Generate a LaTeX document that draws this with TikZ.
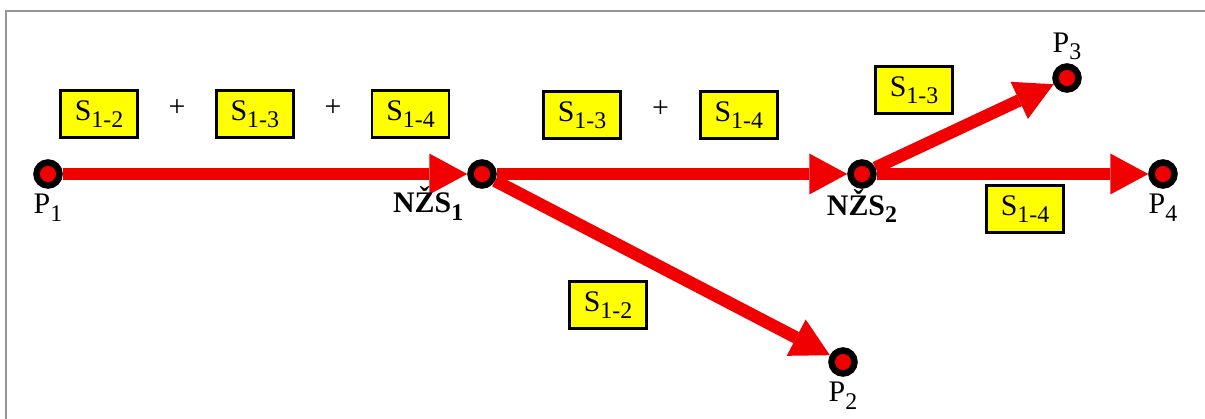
\documentclass[tikz,border=0pt]{standalone}
\usepackage{fontspec}
\setmainfont{Liberation Serif}
\usetikzlibrary{positioning,arrows.meta}
\definecolor{flowred}{RGB}{240,0,0}
\definecolor{boxyellow}{RGB}{255,255,0}
\definecolor{framegray}{RGB}{150,150,150}
\newcommand{\idx}[1]{\raisebox{-0.25em}{\scalebox{0.8}{#1}}}

\begin{document}
\begin{tikzpicture}[x=0.02cm,y=-0.02cm,
  dot/.style={circle,draw=black,fill=flowred,line width=0.13cm,minimum size=0.46cm,inner sep=0pt},
  box/.style={draw,line width=1.6pt,fill=boxyellow,minimum width=1.54cm,minimum height=0.94cm,inner sep=0pt,font=\fontsize{17}{20}\selectfont},
  plus/.style={inner sep=0pt,font=\fontsize{17}{20}\selectfont},
  flow/.style={-{Triangle[length=0.76cm,width=0.82cm,line width=0pt]},line width=0.25cm,flowred},
  plabel/.style={inner sep=0pt,font=\fontsize{17}{20}\selectfont},
  zlabel/.style={inner sep=0pt,font=\fontsize{17}{20}\selectfont\bfseries}
]
  \useasboundingbox (0,0) rectangle (1205,419);
  \draw[framegray,line width=1pt] (6,419) -- (6,11) -- (1205,11);

  % points and nodes of the network
  \node[dot] (p1) at (48,174) {};
  \node[dot] (nzs1) at (482,174) {};
  \node[dot] (nzs2) at (862,174) {};
  \node[dot] (p2) at (843,362) {};
  \node[dot] (p3) at (1067,78) {};
  \node[dot] (p4) at (1163,174) {};

  \draw[flow] (p1) -- (nzs1);
  \draw[flow] (nzs1) -- (nzs2);
  \draw[flow] (nzs1) -- (p2);
  \draw[flow] (nzs2) -- (p3);
  \draw[flow] (nzs2) -- (p4);

  \node[plabel,below=0.1cm of p1] (lp1) {P\idx{1}};
  \node[plabel,below=0.1cm of p2] (lp2) {P\idx{2}};
  \node[plabel,above=0.06cm of p3] (lp3) {P\idx{3}};
  \node[plabel,below=0.1cm of p4] (lp4) {P\idx{4}};
  \node[zlabel,below left=0.04cm and 0.16cm of nzs1] (lnzs1) {NŽS\idx{1}};
  \node[zlabel,below=0pt of nzs2] (lnzs2) {NŽS\idx{2}};

  % flows carried on each section
  \node[box] (s12a) at (99,114) {S\idx{1-2}};
  \node[box,right=1.52cm of s12a] (s13a) {S\idx{1-3}};
  \node[box,right=1.52cm of s13a] (s14a) {S\idx{1-4}};
  \node[plus,right=0.59cm of s12a,yshift=0.12cm] (pl1) {+};
  \node[plus,right=0.59cm of s13a,yshift=0.12cm] (pl2) {+};

  \node[box] (s13b) at (582,115) {S\idx{1-3}};
  \node[box,right=1.54cm of s13b] (s14b) {S\idx{1-4}};
  \node[plus,right=0.6cm of s13b,yshift=0.12cm] (pl3) {+};

  \node[box] (s13c) at (914,90) {S\idx{1-3}};
  \node[box] (s14c) at (1025,209) {S\idx{1-4}};
  \node[box] (s12c) at (608,305) {S\idx{1-2}};
\end{tikzpicture}
\end{document}
